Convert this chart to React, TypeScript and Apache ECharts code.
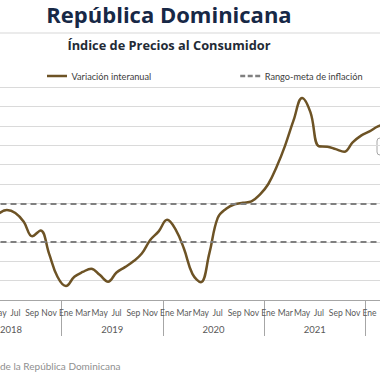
import React, { useEffect, useRef } from "react";
import * as echarts from "echarts";

const monthNames = ["Ene", "Feb", "Mar", "Abr", "May", "Jun", "Jul", "Ago", "Sep", "Oct", "Nov", "Dic"];
const years = ["2018", "2019", "2020", "2021", "2022"];

// Variación interanual del IPC (%), enero 2018 – diciembre 2022
const inflation2018 = [null, null, null, null, 4.45, 4.65, 4.5, 4.05, 3.3, 3.6, 2.4, 1.2];
const inflation2019 = [0.72, 1.2, 1.45, 1.62, 1.3, 0.95, 1.42, 1.7, 2.0, 2.4, 3.1, 3.55];
const inflation2020 = [4.15, 3.65, 2.65, 1.35, 0.92, 2.4, 4.25, 4.72, 4.95, 5.03, 5.1, 5.45];
const inflation2021 = [6.0, 6.9, 8.0, 9.3, 10.45, 9.7, 7.95, 7.93, 7.8, 7.67, 8.15, 8.5];
const inflation2022 = [8.72, 8.98, 9.1, null, null, null, null, null, null, null, null, null];

const targetRange = [5, 3];

const titleText = "República Dominicana";
const subtitleText = "Índice de Precios al Consumidor";
const sourceText = "de la República Dominicana";
const seriesNames = ["Variación interanual", "Rango-meta de inflación"];

const OFFSET = 60; // chart div is shifted left by this amount

export default function App() {
  const ref = useRef<HTMLDivElement>(null);
  useEffect(() => {
    if (!ref.current) return;
    const chart = echarts.init(ref.current, null, { renderer: "svg" });
    const monthCats = years.flatMap((y) => monthNames.map((m) => `${m} ${y}`));
    const values = [...inflation2018, ...inflation2019, ...inflation2020, ...inflation2021, ...inflation2022];
    const font = "Lato";
    const headFont = "Open Sans";
    chart.setOption({
      animation: false,
      backgroundColor: "#ffffff",
      title: [
        {
          text: titleText,
          left: 169 + OFFSET,
          top: 3,
          padding: 0,
          textAlign: "center",
          textStyle: { fontFamily: headFont, fontWeight: "bold", fontSize: 22, color: "#172846" },
        },
        {
          text: subtitleText,
          left: 169 + OFFSET,
          top: 38,
          padding: 0,
          textAlign: "center",
          textStyle: { fontFamily: headFont, fontWeight: "bold", fontSize: 12.8, color: "#232a35" },
        },
        {
          text: sourceText,
          left: OFFSET,
          top: 361,
          padding: 0,
          textStyle: { fontFamily: font, fontWeight: "normal", fontSize: 10, color: "#8f8f8f" },
        },
      ],
      legend: {
        left: 47 + OFFSET,
        top: 71.5,
        padding: 0,
        itemWidth: 23,
        itemHeight: 2.5,
        itemGap: 89,
        textStyle: { fontFamily: font, fontSize: 9.2, color: "#404040", padding: [0, 0, 0, -2] },
        data: [
          { name: seriesNames[0], icon: "path://M0 0H24V3H0Z" },
          { name: seriesNames[1], icon: "path://M0 0H6V3H0Z M9 0H15V3H9Z M18 0H24V3H18Z" },
        ],
      },
      graphic: [
        {
          type: "line",
          shape: { x1: OFFSET, y1: 33, x2: OFFSET + 380, y2: 33 },
          style: { stroke: "#e4e4e4", lineWidth: 1.5 },
        },
        {
          type: "rect",
          shape: { x: 377 + OFFSET, y: 138, width: 30, height: 17, r: 3 },
          style: { fill: "#ffffff", stroke: "#a6a6a6", lineWidth: 1 },
        },
      ],
      grid: { left: 20.5, right: 13.5, top: 87.3, bottom: 80 },
      xAxis: [
        {
          type: "category",
          data: monthCats,
          boundaryGap: true,
          position: "bottom",
          axisLine: { show: true, lineStyle: { color: "#a6a6a6", width: 1 } },
          axisTick: { show: false },
          axisLabel: {
            interval: 1,
            margin: 8,
            fontFamily: font,
            fontSize: 8.5,
            color: "#595959",
            formatter: (v: string, i: number) => (i < 4 || i > 48 ? "" : v.split(" ")[0]),
          },
        },
        {
          type: "category",
          data: years,
          boundaryGap: true,
          position: "bottom",
          offset: 0,
          axisLine: { show: false },
          axisTick: { show: true, length: 36, lineStyle: { color: "#a6a6a6", width: 1 } },
          axisLabel: {
            margin: 24,
            fontFamily: font,
            fontSize: 9.5,
            color: "#595959",
            formatter: (v: string) => (v === "2022" ? "" : v),
          },
        },
      ],
      yAxis: {
        type: "value",
        min: 0,
        max: 11,
        interval: 1,
        axisLine: { show: false },
        axisTick: { show: false },
        axisLabel: { show: false },
        splitLine: { lineStyle: { color: "#dadada", width: 1 } },
      },
      series: [
        {
          name: seriesNames[0],
          type: "line",
          xAxisIndex: 0,
          data: values,
          smooth: 0.4,
          symbol: "none",
          lineStyle: { color: "#6d5325", width: 2.5 },
          itemStyle: { color: "#6d5325" },
          z: 3,
        },
        {
          name: seriesNames[1],
          type: "line",
          xAxisIndex: 0,
          data: values.map(() => null),
          symbol: "none",
          lineStyle: { color: "#808080", width: 2, type: [6, 4] },
          itemStyle: { color: "#808080" },
          markLine: {
            silent: true,
            symbol: "none",
            label: { show: false },
            lineStyle: { color: "#808080", width: 2, type: [6, 4] },
            data: targetRange.map((v) => ({ yAxis: v })),
          },
          z: 2,
        },
      ],
    });
    return () => chart.dispose();
  }, []);
  return (
    <div style={{ position: "fixed", left: 0, top: 0, width: 380, height: 380, overflow: "hidden", background: "#fff" }}>
      <div ref={ref} style={{ position: "absolute", left: -OFFSET, top: 0, width: 540, height: 380 }} />
    </div>
  );
}
